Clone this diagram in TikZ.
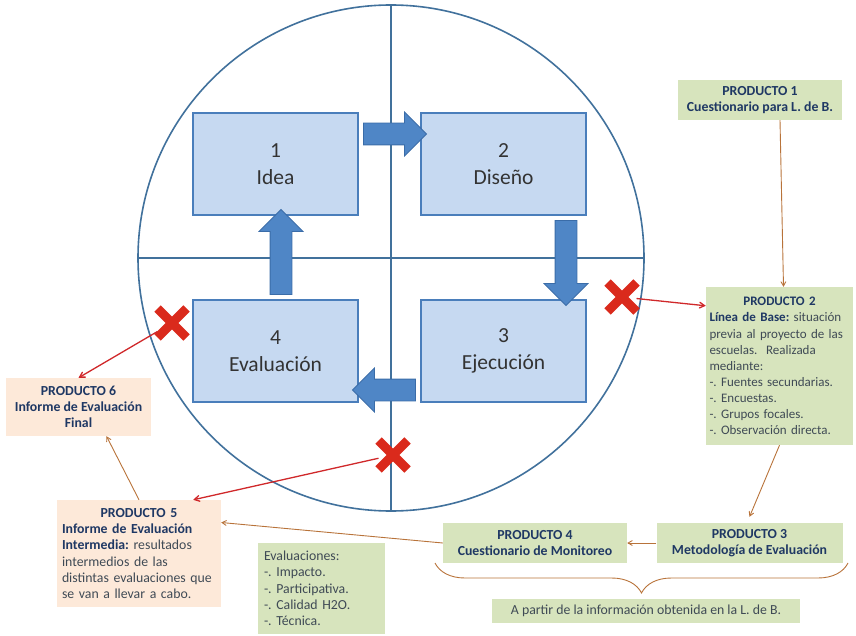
\documentclass[tikz,border=0pt]{standalone}
\usepackage{fontspec}
\setmainfont{Carlito}
\usepackage{xcolor}
\usepackage{tikz}
\usetikzlibrary{shapes.arrows, shapes.misc, arrows, positioning, calc, decorations.pathreplacing}
\frenchspacing

\definecolor{ringblue}{HTML}{41719C}
\definecolor{stepfill}{HTML}{C6D9F1}
\definecolor{stepline}{HTML}{4A7EBB}
\definecolor{flowfill}{HTML}{4F86C6}
\definecolor{flowline}{HTML}{3A6CA8}
\definecolor{prodgreen}{HTML}{D7E4BD}
\definecolor{prodpeach}{HTML}{FDE9D9}
\definecolor{headnavy}{HTML}{1F3864}
\definecolor{bodygray}{HTML}{3F4A55}
\definecolor{crossred}{HTML}{DA2A1C}
\definecolor{linkred}{HTML}{D0282A}
\definecolor{linkbrown}{HTML}{B8733A}

\tikzstyle{ring} = [draw=ringblue, line width=1.6pt]
\tikzstyle{stepbox} = [draw=stepline, line width=1.2pt, fill=stepfill, minimum width=165pt, minimum height=102pt, align=center, text=black!80, font=\fontsize{21.5}{27}\selectfont]
\tikzstyle{flow} = [single arrow, draw=flowline, fill=flowfill, line width=0.8pt, inner sep=10.5pt, single arrow head extend=11pt, single arrow head indent=0pt]
\tikzstyle{xmark} = [cross out, draw=crossred, line width=9pt, minimum size=20pt, inner sep=0pt]
\tikzstyle{product} = [fill=prodgreen, text=headnavy, inner sep=0pt, font=\fontsize{13.8}{16.3}\selectfont]
\tikzstyle{report} = [product, fill=prodpeach]
\tikzstyle{redlink} = [draw=linkred, line width=1.3pt, ->, >=angle 60]
\tikzstyle{brownlink} = [draw=linkbrown, line width=0.9pt, ->, >=angle 60]

\begin{document}
\begin{tikzpicture}[x=1pt, y=-1pt]
\useasboundingbox (0,0) rectangle (856,636);

% Cycle ring
\draw[ring] (391,258) circle (253pt);
\draw[ring] (138,258) -- (644,258);
\draw[ring] (391,5) -- (391,511);

% Project cycle steps
\node[stepbox] (idea) at (275.5,164) {1\\Idea};
\node[stepbox] (diseno) at (503.5,164) {2\\Diseño};
\node[stepbox] (ejecucion) at (503.5,351) {3\\Ejecución};
\node[stepbox] (evaluacion) at (275.5,351) {4\\Evaluación};

% Block arrows
\node[flow, minimum height=63pt] (f12) at (389.5,134) {};
\node[flow, minimum height=85pt, rotate=-90] (f23) at (566,257.5) {};
\node[flow, minimum height=63pt, rotate=180] (f34) at (389.5,390) {};
\node[flow, minimum height=85pt, rotate=90] (f41) at (281,257.5) {};

% Products
\node[product, minimum width=164pt, minimum height=40pt, align=center] (p1) at (760,100)
  {\textbf{PRODUCTO 1}\\\textbf{Cuestionario para L. de B.}};
\node[product, font=\fontsize{13}{16.1}\selectfont, minimum width=147pt, minimum height=158pt, text width=140pt, align=left] (p2) at (779.5,366)
  {\hfill\textbf{PRODUCTO 2}\hfill\null\\
   \textbf{Línea de Base:} \textcolor{bodygray}{situación}\\
   \mbox{\textcolor{bodygray}{previa al proyecto de las}}\\
   \textcolor{bodygray}{escuelas.\ \ Realizada}\\
   \textcolor{bodygray}{mediante:}\\
   \textcolor{bodygray}{-. Fuentes secundarias.}\\
   \textcolor{bodygray}{-. Encuestas.}\\
   \textcolor{bodygray}{-. Grupos focales.}\\
   \textcolor{bodygray}{-. Observación directa.}};
\node[product, minimum width=186pt, minimum height=40pt, align=center] (p3) at (749.5,543)
  {\textbf{PRODUCTO 3}\\\textbf{Metodología de Evaluación}};
\node[product, minimum width=184pt, minimum height=40pt, align=center] (p4) at (535,543)
  {\textbf{PRODUCTO 4}\\\textbf{Cuestionario de Monitoreo}};
\node[report, minimum width=164pt, minimum height=107pt, text width=154pt, align=left] (p5) at (139,553.5)
  {\hfill\textbf{PRODUCTO 5}\hfill\null\\
   \textbf{Informe de Evaluación}\\
   \textbf{Intermedia:} \textcolor{bodygray}{resultados}\\
   \textcolor{bodygray}{intermedios de las}\\
   \textcolor{bodygray}{distintas evaluaciones que}\\
   \textcolor{bodygray}{se van a llevar a cabo.}};
\node[report, minimum width=145pt, minimum height=58pt, align=center] (p6) at (78.5,407)
  {\textbf{PRODUCTO 6}\\\textbf{Informe de Evaluación}\\\textbf{Final}};
\node[product, text=bodygray, minimum width=127pt, minimum height=91pt, text width=115pt, align=left] (evals) at (321.5,588.5)
  {Evaluaciones:\\-. Impacto.\\-. Participativa.\\-. Calidad H2O.\\-. Técnica.};
\node[product, text=bodygray, minimum width=308pt, minimum height=24pt] (fuente) at (646,611)
  {A partir de la información obtenida en la L. de B.};

% Evaluation points
\node[xmark] (x2) at (622,297) {};
\node[xmark] (x4) at (172,323) {};
\node[xmark] (x5) at (393,455) {};

% Red links
\draw[redlink] (x2) -- ([yshift=-19pt]p2.north west);
\draw[redlink] (x4) -- (p6.north);
\draw[redlink] (x5) -- ([xshift=-28pt]p5.north east);

% Brown links
\draw[brownlink] ([xshift=20pt]p1.south) -- ([xshift=4pt]p2.north);
\draw[brownlink] (p2.south) -- ([yshift=6pt]p3.north);
\draw[brownlink] (p3.west) -- (p4.east);
\draw[brownlink] (p4.west) -- ([yshift=31pt]p5.east);
\draw[brownlink] (p5.north) -- ([xshift=28pt]p6.south);

% Brace
\coordinate (braceL) at (435,563);
\coordinate (braceR) at (848,563);
\draw[linkbrown, line width=0.9pt, decorate, decoration={brace, mirror, amplitude=30pt}] (braceL) -- (braceR);
\end{tikzpicture}
\end{document}
